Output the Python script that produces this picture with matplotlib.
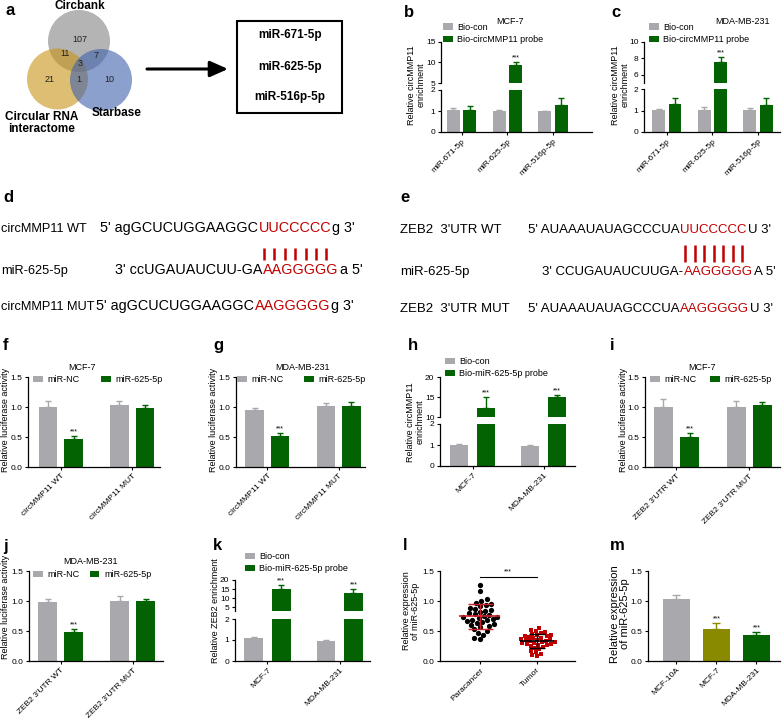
import numpy as np
import matplotlib
matplotlib.use("Agg")
import matplotlib.pyplot as plt
import seaborn as sns
from matplotlib.patches import Circle, Rectangle

plt.rcParams["font.family"] = ["Liberation Sans", "DejaVu Sans"]
plt.rcParams["axes.linewidth"] = 0.9

GREY = "#a8a8ad"
GREEN = "#036303"
OLIVE = "#8a8a00"
RED = "#c00000"
SDRED = "#d0202a"

# ---------------- data ----------------
venn_counts = [107, 21, 10, 11, 7, 1, 3]   # Cb only, CRI only, Sb only, Cb&CRI, Cb&Sb, CRI&Sb, all
candidates = ["miR-671-5p", "miR-625-5p", "miR-516p-5p"]

pull_cats = ["miR-671-5p", "miR-625-5p", "miR-516p-5p"]
b_con, b_con_err = [1.03, 0.98, 0.98], [0.09, 0.05, 0.02]
b_probe, b_probe_err = [1.05, 9.4, 1.28], [0.17, 0.8, 0.32]
c_con, c_con_err = [1.01, 1.02, 1.02], [0.04, 0.13, 0.08]
c_probe, c_probe_err = [1.3, 7.55, 1.25], [0.3, 0.6, 0.35]

circ_cats = ["circMMP11 WT", "circMMP11 MUT"]
f_nc, f_nc_err = [1.0, 1.03], [0.1, 0.07]
f_mir, f_mir_err = [0.47, 0.99], [0.04, 0.04]
g_nc, g_nc_err = [0.95, 1.01], [0.04, 0.05]
g_mir, g_mir_err = [0.51, 1.02], [0.05, 0.06]

cell_cats = ["MCF-7", "MDA-MB-231"]
h_con, h_con_err = [1.0, 0.97], [0.03, 0.05]
h_probe, h_probe_err = [12.3, 15.0], [2.6, 0.6]

zeb_cats = ["ZEB2 3'UTR WT", "ZEB2 3'UTR MUT"]
i_nc, i_nc_err = [1.0, 1.0], [0.13, 0.1]
i_mir, i_mir_err = [0.5, 1.03], [0.06, 0.05]
j_nc, j_nc_err = [0.98, 1.0], [0.05, 0.08]
j_mir, j_mir_err = [0.48, 1.0], [0.05, 0.03]

k_con, k_con_err = [1.08, 0.97], [0.08, 0.02]
k_probe, k_probe_err = [15.3, 12.9], [1.9, 1.9]

paracancer = [1.27, 1.16, 1.03, 1.00, 0.97, 0.95, 0.93, 0.91, 0.89, 0.87, 0.85, 0.84,
              0.82, 0.80, 0.78, 0.77, 0.75, 0.74, 0.73, 0.72, 0.70, 0.69, 0.68, 0.66,
              0.65, 0.63, 0.61, 0.60, 0.58, 0.56, 0.53, 0.50, 0.47, 0.43, 0.38, 0.36]
tumor = [0.55, 0.52, 0.50, 0.48, 0.47, 0.45, 0.44, 0.43, 0.42, 0.41, 0.40, 0.39,
         0.38, 0.37, 0.36, 0.35, 0.35, 0.34, 0.33, 0.32, 0.31, 0.30, 0.30, 0.29,
         0.28, 0.27, 0.26, 0.25, 0.24, 0.22, 0.20, 0.17, 0.15, 0.12, 0.10, 0.08]

m_cats = ["MCF-10A", "MCF-7", "MDA-MB-231"]
m_vals, m_err = [1.03, 0.54, 0.43], [0.07, 0.09, 0.06]

d_rows = [("circMMP11 WT", [("5' agGCUCUGGAAGGC", "k"), ("UUCCCCC", RED), ("g 3'", "k")]),
          ("miR-625-5p", [("3' ccUGAUAUCUU-GA", "k"), ("AAGGGGG", RED), ("a 5'", "k")]),
          ("circMMP11 MUT", [("5' agGCUCUGGAAGGC", "k"), ("AAGGGGG", RED), ("g 3'", "k")])]
e_rows = [("ZEB2  3'UTR WT", [("5' AUAAAUAUAGCCCUA", "k"), ("UUCCCCC", RED), ("U 3'", "k")]),
          ("miR-625-5p", [("3' CCUGAUAUCUUGA-", "k"), ("AAGGGGG", RED), ("A 5'", "k")]),
          ("ZEB2  3'UTR MUT", [("5' AUAAAUAUAGCCCUA", "k"), ("AAGGGGG", RED), ("U 3'", "k")])]

# ---------------- helpers ----------------
W, H = 784, 720
fig = plt.figure(figsize=(W / 100, H / 100), dpi=100)


def add_ax(x0, y0, x1, y1):
    return fig.add_axes([x0 / W, 1 - y1 / H, (x1 - x0) / W, (y1 - y0) / H])


def ftext(x, y, s, **kw):
    return fig.text(x / W, 1 - y / H, s, **kw)


def style(ax):
    ax.spines[["top", "right"]].set_visible(False)
    ax.tick_params(labelsize=6, length=2.5, width=0.8, pad=1.5)


def letter(x, y, s):
    ftext(x, y, s, fontsize=12, fontweight="bold", va="baseline")


def ylab(x, y, s, size=6.5):
    ftext(x, y, s, fontsize=size, rotation=90, ha="center", va="center",
          multialignment="center", linespacing=1.1)


def stars(ax, x, top):
    ax.annotate("***", (x, top), xytext=(0, 0.5), textcoords="offset points",
                ha="center", va="bottom", fontsize=5)


def pair(ax, a, a_err, b, b_err, w, off, names=(None, None)):
    x = np.arange(len(a))
    for xs, v, e, col, nm in ((x - off, a, a_err, GREY, names[0]),
                              (x + off, b, b_err, GREEN, names[1])):
        ax.bar(xs, v, w, color=col, label=nm, zorder=2)
        ax.errorbar(xs, v, yerr=[np.zeros(len(v)), e], fmt="none", ecolor=col,
                    elinewidth=1, capsize=2.5, capthick=1, zorder=1)
    return x


def legend(ax, anchor, ncol=1, colsp=1.0):
    ax.legend(loc="lower left", bbox_to_anchor=anchor, ncol=ncol, frameon=False,
              fontsize=6.5, handlelength=1.1, handleheight=0.75, handletextpad=0.5,
              labelspacing=0.35, columnspacing=colsp, borderpad=0, borderaxespad=0)


def xlabels(ax, x, cats):
    ax.set_xticks(x)
    ax.set_xticklabels(cats, rotation=45, ha="right", rotation_mode="anchor")


def luc_panel(box, cats, a, ae, b, be, xlim, title, txy, anchor, colsp):
    ax = add_ax(*box)
    style(ax)
    x = pair(ax, a, ae, b, be, 0.26, 0.18, ("miR-NC", "miR-625-5p"))
    ax.set_xlim(xlim)
    ax.set_ylim(0, 1.5)
    ax.set_yticks([0, 0.5, 1.0, 1.5])
    ax.yaxis.set_major_formatter("{x:.1f}")
    xlabels(ax, x, cats)
    stars(ax, x[0] + 0.18, b[0] + be[0])
    legend(ax, anchor, ncol=2, colsp=colsp)
    ftext(txy[0], txy[1], title, fontsize=6.5, ha="center", va="center")
    return ax


def broken_panel(box, split, lims, ticks, cats, a, ae, b, be, names, w, off, xlim, star_idx):
    x0, y0, x1, y1 = box
    hi = add_ax(x0, y0, x1, split[0])
    lo = add_ax(x0, split[1], x1, y1)
    for ax, lim, tk, nm in ((hi, lims[1], ticks[1], names), (lo, lims[0], ticks[0], (None, None))):
        style(ax)
        x = pair(ax, a, ae, b, be, w, off, nm)
        ax.set_xlim(xlim)
        ax.set_ylim(lim)
        ax.set_yticks(tk)
    hi.spines["bottom"].set_visible(False)
    hi.tick_params(axis="x", bottom=False, labelbottom=False)
    xlabels(lo, x, cats)
    for i in star_idx:
        top = b[i] + be[i]
        stars(hi if top > lims[1][0] else lo, x[i] + off, top)
    return hi, lo


def seq_line(ax, x, y, parts, size):
    # coloured pieces chained one after another on the same baseline
    prev, red = None, None
    for text, col in parts:
        if prev is None:
            t = ax.text(x, y, text, fontsize=size, color=col, va="baseline")
        else:
            t = ax.annotate(text, xy=(1, 0), xycoords=prev, xytext=(0.6, 0),
                            textcoords="offset points", fontsize=size, color=col,
                            va="bottom")
        if col == RED and red is None:
            red = (t, len(text))
        prev = t
    return red


# ---------------- a : venn ----------------
ax_a = add_ax(0, 0, 400, 140)
ax_a.set_xlim(0, 400)
ax_a.set_ylim(140, 0)
ax_a.axis("off")
for (cx, cy), r, col in (((79, 41), 31, "#828282"), ((57.5, 79), 30.5, "#c89316"),
                         ((101, 80), 31, "#3f61ac")):
    ax_a.add_patch(Circle((cx, cy), r, color=col, alpha=0.6, lw=0))
for n, (px, py) in zip(venn_counts, [(80, 39), (50, 80), (109, 80), (65, 54),
                                     (96, 56), (79, 80), (80, 63)]):
    ax_a.text(px, py, str(n), fontsize=6.5, ha="center", va="center", color="#222222")
ax_a.text(80, 6, "Circbank", fontsize=8.5, fontweight="bold", ha="center", va="center")
ax_a.text(42, 123, "Circular RNA\ninteractome", fontsize=8.5, fontweight="bold",
          ha="center", va="center", linespacing=1.05)
ax_a.text(117, 113, "Starbase", fontsize=8.5, fontweight="bold", ha="center", va="center")
ax_a.annotate("", xy=(228, 69), xytext=(147, 69),
              arrowprops=dict(arrowstyle="-|>,head_length=0.9,head_width=0.4", lw=2.2,
                              color="k", shrinkA=0, shrinkB=0, mutation_scale=12))
ax_a.add_patch(Rectangle((237, 21), 105, 92, fill=False, lw=1.5, ec="k"))
for name, py in zip(candidates, [35, 67, 97]):
    ax_a.text(290, py, name, fontsize=8.5, fontweight="bold", ha="center", va="center")
letter(5, 15, "a")

# ---------------- b, c : pull-down ----------------
hi_b, lo_b = broken_panel((441, 42, 592, 132), (83, 90), ((0, 2), (5, 15)),
                          ([0, 1, 2], [5, 10, 15]), pull_cats, b_con, b_con_err,
                          b_probe, b_probe_err, ("Bio-con", "Bio-circMMP11 probe"),
                          0.28, 0.18, (-0.45, 2.85), [1])
legend(hi_b, (0.013, 0.95))
ftext(510, 21, "MCF-7", fontsize=6.5, ha="center", va="center")
ylab(416, 85, "Relative circMMP11\nenrichment")
letter(404, 17, "b")

hi_c, lo_c = broken_panel((644, 42, 780, 132), (83, 89), ((0, 2), (5, 10)),
                          ([0, 1, 2], [6, 8, 10]), pull_cats, c_con, c_con_err,
                          c_probe, c_probe_err, ("Bio-con", "Bio-circMMP11 probe"),
                          0.28, 0.18, (-0.5, 2.48), [1])
legend(hi_c, (0.037, 0.95))
ftext(742, 21, "MDA-MB-231", fontsize=6.5, ha="center", va="center")
ylab(620, 85, "Relative circMMP11\nenrichment")
letter(611, 17, "c")

# ---------------- d, e : sequences ----------------
ax_s = add_ax(0, 180, 784, 330)
ax_s.set_xlim(0, 784)
ax_s.set_ylim(330, 180)
ax_s.axis("off")
letter(3, 202, "d")
letter(400, 202, "e")
red_marks = []
for (lab, parts), y, sx in zip(d_rows, [232, 274, 310], [100, 115, 96]):
    ax_s.text(1, y, lab, fontsize=9.2, va="baseline")
    red = seq_line(ax_s, sx, y, parts, 10.4)
    if y == 232:
        red_marks.append((red, 248, 260))
for (lab, parts), y, sx in zip(e_rows, [233, 275, 312], [528, 542, 528]):
    ax_s.text(400, y, lab, fontsize=9.5, va="baseline")
    red = seq_line(ax_s, sx, y, parts, 9.5)
    if y == 233:
        red_marks.append((red, 245, 262))

# ---------------- f, g, h, i ----------------
luc_panel((28, 377, 160, 467), circ_cats, f_nc, f_nc_err, f_mir, f_mir_err,
          (-0.46, 1.39), "MCF-7", (82, 367), (0.04, 0.92), 2.3)
ylab(6, 420, "Relative luciferase activity")
letter(3, 350, "f")

luc_panel((236, 377, 365, 467), circ_cats, g_nc, g_nc_err, g_mir, g_mir_err,
          (-0.44, 1.37), "MDA-MB-231", (303, 367), (0.01, 0.92), 2.2)
ylab(213, 420, "Relative luciferase activity")
letter(213, 350, "g")

hi_h, lo_h = broken_panel((440, 377, 575, 466), (417, 424), ((0, 2), (10, 20)),
                          ([0, 1, 2], [10, 15, 20]), cell_cats, h_con, h_con_err,
                          h_probe, h_probe_err, ("Bio-con", "Bio-miR-625-5p probe"),
                          0.26, 0.19, (-0.46, 1.44), [0, 1])
legend(hi_h, (0.037, 0.97))
ylab(415, 422, "Relative circMMP11\nenrichment")
letter(408, 350, "h")

luc_panel((645, 377, 780, 467), zeb_cats, i_nc, i_nc_err, i_mir, i_mir_err,
          (-0.43, 1.42), "MCF-7", (702, 367), (0.04, 0.92), 1.4)
ylab(623, 420, "Relative luciferase activity")
letter(610, 350, "i")

# ---------------- j, k, l, m ----------------
luc_panel((29, 571, 163, 661), zeb_cats, j_nc, j_nc_err, j_mir, j_mir_err,
          (-0.44, 1.42), "MDA-MB-231", (91, 562), (0.03, 0.91), 1.1)
ylab(6, 607, "Relative luciferase activity")
letter(3, 551, "j")

hi_k, lo_k = broken_panel((235, 580, 370, 661), (611, 619), ((0, 2), (3, 20)),
                          ([0, 1, 2], [5, 10, 15, 20]), cell_cats, k_con, k_con_err,
                          k_probe, k_probe_err, ("Bio-con", "Bio-miR-625-5p probe"),
                          0.26, 0.19, (-0.45, 1.42), [0, 1])
legend(hi_k, (0.074, 1.22))
ylab(215, 611, "Relative ZEB2 enrichment")
letter(213, 550, "k")

ax_l = add_ax(440, 571, 575, 661)
order = ["Paracancer", "Tumor"]
sns.swarmplot(x=["Paracancer"] * len(paracancer), y=paracancer, order=order,
              color="black", size=3.8, ax=ax_l)
sns.swarmplot(x=["Tumor"] * len(tumor), y=tumor, order=order, color=RED,
              marker="s", size=3.1, ax=ax_l)
for xi, vals, col, half, cap in ((0, paracancer, SDRED, 0.36, 9), (1, tumor, "black", 0.3, 6)):
    mu, sd = np.mean(vals), np.std(vals, ddof=1)
    ax_l.errorbar(xi, mu, yerr=sd, fmt="none", ecolor=col, elinewidth=1,
                  capsize=cap, capthick=1, zorder=4)
    ax_l.hlines(mu, xi - half, xi + half, color=col, lw=1.2, zorder=4)
style(ax_l)
ax_l.plot([0, 1], [1.4, 1.4], color="k", lw=0.8)
ax_l.text(0.5, 1.42, "***", fontsize=5, ha="center", va="bottom")
ax_l.set_xlim(-0.7, 1.67)
ax_l.set_ylim(0, 1.5)
ax_l.set_yticks([0, 0.5, 1.0, 1.5])
ax_l.yaxis.set_major_formatter("{x:.1f}")
ax_l.set_xlabel("")
ax_l.set_ylabel("")
xlabels(ax_l, [0, 1], order)
ylab(411, 611, "Relative expression\nof miR-625-5p")
letter(403, 550, "l")

ax_m = add_ax(648, 571, 780, 661)
style(ax_m)
xm = np.arange(len(m_cats))
for xi, v, e, col in zip(xm, m_vals, m_err, [GREY, OLIVE, GREEN]):
    ax_m.bar(xi, v, 0.68, color=col, zorder=2)
    ax_m.errorbar(xi, v, yerr=[[0], [e]], fmt="none", ecolor=col, elinewidth=1,
                  capsize=3, capthick=1, zorder=1)
for i in (1, 2):
    stars(ax_m, xm[i], m_vals[i] + m_err[i])
ax_m.set_xlim(-0.71, 2.59)
ax_m.set_ylim(0, 1.5)
ax_m.set_yticks([0, 0.5, 1.0, 1.5])
ax_m.yaxis.set_major_formatter("{x:.1f}")
xlabels(ax_m, xm, m_cats)
ylab(620, 614, "Relative expression\nof miR-625-5p", size=8)
letter(610, 550, "m")

# complementarity bars under the red seed sequences
fig.canvas.draw()
inv = ax_s.transData.inverted()
for (art, n), y0, y1 in red_marks:
    bb = art.get_window_extent()
    cs = [bb.x0 + (k + 0.5) * (bb.x1 - bb.x0) / n for k in range(n)]
    xs = [inv.transform((c, 0))[0] for c in cs]
    ax_s.vlines(xs, y0, y1, color=RED, lw=1.8)

fig.savefig("out.png", dpi=100)
